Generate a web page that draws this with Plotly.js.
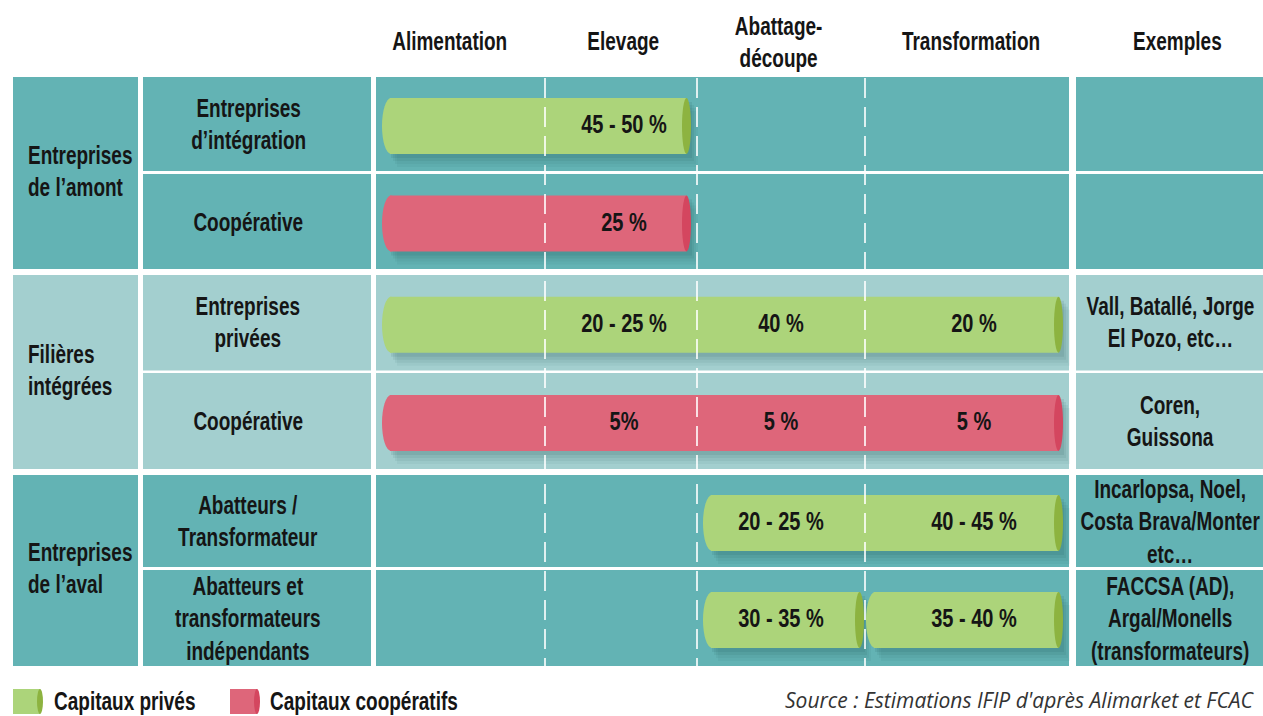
<!DOCTYPE html>
<html>
<head>
<meta charset="utf-8">
<script src="https://cdn.plot.ly/plotly-3.0.1.min.js"></script>
<style>
  html, body { margin: 0; padding: 0; background: #ffffff; }
  #chart { width: 1263px; height: 716px; }
</style>
</head>
<body>
<div id="chart"></div>
<script>
// ---------------- DATA ----------------
const groups = ["Entreprises<br>de l’amont", "Filières<br>intégrées", "Entreprises<br>de l’aval"];
const rowLabels = [
  "Entreprises<br>d’intégration",
  "Coopérative",
  "Entreprises<br>privées",
  "Coopérative",
  "Abatteurs /<br>Transformateur",
  "Abatteurs et<br>transformateurs<br>indépendants"
];
const rowGroup = [0, 0, 1, 1, 2, 2];
const stages = ["Alimentation", "Elevage", "Abattage-<br>découpe", "Transformation"];
const examplesHeader = "Exemples";
const examples = [
  "",
  "",
  "Vall, Batallé, Jorge<br>El Pozo, etc…",
  "Coren,<br>Guissona",
  "Incarlopsa, Noel,<br>Costa Brava/Monter<br>etc…",
  "FACCSA (AD),<br>Argal/Monells<br>(transformateurs)"
];
const kinds = ["Capitaux privés", "Capitaux coopératifs"];
// bars: row, first stage covered, stage after the last one covered, kind
const barRow  = [0, 1, 2, 3, 4, 5, 5];
const barFrom = [0, 0, 0, 0, 2, 2, 3];
const barTo   = [2, 2, 4, 4, 4, 3, 4];
const barKind = [0, 1, 0, 1, 0, 0, 0];
// shares written on the bars
const shareRow   = [0, 1, 2, 2, 2, 3, 3, 3, 4, 4, 5, 5];
const shareStage = [1, 1, 1, 2, 3, 1, 2, 3, 2, 3, 2, 3];
const shareText  = ["45 - 50 %", "25 %", "20 - 25 %", "40 %", "20 %", "5%", "5 %", "5 %",
                    "20 - 25 %", "40 - 45 %", "30 - 35 %", "35 - 40 %"];
const sourceText = "Source : Estimations IFIP d'après Alimarket et FCAC";

// ---------------- LAYOUT CONSTANTS (pixels) ----------------
const W = 1263, H = 716;
const colGroup = [13, 138], colSub = [143, 371], colBars = [376, 1069], colEx = [1076, 1263];
const stageEdges = [376, 545, 697, 865, 1069];
const stageHeadX = [449, 623, 778, 971];
const stageLabelX = [460, 624, 781, 974];
const rowTop = [77, 174, 275, 373, 475, 570];
const rowBot = [171, 269, 370.5, 469, 567, 666];
const groupTop = [77, 275, 475], groupBot = [269, 469, 666];
const groupFill = ["#63b3b4", "#a3cfcf", "#63b3b4"];
const kindFill = ["#acd47a", "#de667a"];
const kindCap = ["#8db340", "#d4465f"];
const barH = 56, barPad = 6, capW = 9;
const FONT = "'Liberation Sans', Arial, sans-serif";
const FS = 25;          // font size of the condensed labels
const SQUEEZE = 0.76;   // horizontal condensing of the labels
const txtColor = "#151515";

const shapes = [];
const annotations = [];
const bold = (size) => ({family: FONT, size: size, color: txtColor, weight: "bold"});

// cells
for (let g = 0; g < 3; g++) {
  shapes.push({type: "rect", xref: "x", yref: "y", x0: colGroup[0], x1: colGroup[1], y0: groupTop[g], y1: groupBot[g],
    fillcolor: groupFill[g], line: {width: 0}, layer: "below"});
  annotations.push({x: 26, y: (groupTop[g] + groupBot[g]) / 2 - 2, xref: "x", yref: "y", text: groups[g],
    showarrow: false, xanchor: "left", yanchor: "middle", align: "left", font: bold(FS)});
}
for (let r = 0; r < rowLabels.length; r++) {
  const fill = groupFill[rowGroup[r]];
  [colSub, colBars, colEx].forEach(c => shapes.push({type: "rect", xref: "x", yref: "y", x0: c[0], x1: c[1],
    y0: rowTop[r], y1: rowBot[r], fillcolor: fill, line: {width: 0}, layer: "below"}));
  const cy = (rowTop[r] + rowBot[r]) / 2;
  annotations.push({x: 248, y: cy, xref: "x", yref: "y", text: rowLabels[r], showarrow: false,
    xanchor: "center", yanchor: "middle", align: "center", font: bold(FS)});
  if (examples[r]) annotations.push({x: 1170, y: cy, xref: "x", yref: "y", text: examples[r], showarrow: false,
    xanchor: "center", yanchor: "middle", align: "center", font: bold(FS)});
}
// headers
stages.forEach((s, i) => annotations.push({x: stageHeadX[i], y: i === 2 ? 42 : 41, xref: "x", yref: "y", text: s,
  showarrow: false, xanchor: "center", yanchor: "middle", align: "center", font: bold(FS)}));
annotations.push({x: 1177, y: 41, xref: "x", yref: "y", text: examplesHeader, showarrow: false,
  xanchor: "center", yanchor: "middle", font: bold(FS)});

// bar geometry from data
function barCenterY(r) { return (rowTop[r] + rowBot[r]) / 2 + 2; }
const barX0 = [], barX1 = [], barY = [];
for (let i = 0; i < barRow.length; i++) {
  let joinedLeft = false, joinedRight = false;
  for (let j = 0; j < barRow.length; j++) {
    if (j === i || barRow[j] !== barRow[i]) continue;
    if (barTo[j] === barFrom[i]) joinedLeft = true;
    if (barFrom[j] === barTo[i]) joinedRight = true;
  }
  barX0.push(stageEdges[barFrom[i]] + (joinedLeft ? 1 : barPad));
  barX1.push(stageEdges[barTo[i]] - (joinedRight ? 1 : barPad));
  barY.push(barCenterY(barRow[i]));
}
// shadows + caps
for (let i = 0; i < barRow.length; i++) {
  const y0 = barY[i] - barH / 2, y1 = barY[i] + barH / 2;
  [[3, 4, 0.10], [5, 7, 0.08], [7, 10, 0.07], [9, 13, 0.05]].forEach(o => shapes.push({
    type: "rect", xref: "x", yref: "y", x0: barX0[i] + o[0] + 6, x1: barX1[i] + o[0] - 2,
    y0: y0 + o[1], y1: y1 + o[1], fillcolor: "#1d4e50", opacity: o[2], line: {width: 0}, layer: "below"}));
}
for (let i = 0; i < barRow.length; i++) {
  const y0 = barY[i] - barH / 2, y1 = barY[i] + barH / 2;
  shapes.push({type: "circle", xref: "x", yref: "y", x0: barX0[i], x1: barX0[i] + 18, y0: y0, y1: y1,
    fillcolor: kindFill[barKind[i]], line: {width: 0}, layer: "below"});
  shapes.push({type: "circle", xref: "x", yref: "y", x0: barX1[i] - capW, x1: barX1[i], y0: y0, y1: y1,
    fillcolor: kindCap[barKind[i]], line: {width: 0}, layer: "above"});
}
// dashed stage separators
for (let k = 1; k < stageEdges.length - 1; k++) {
  shapes.push({type: "line", xref: "x", yref: "y", x0: stageEdges[k], x1: stageEdges[k], y0: 78, y1: 666,
    line: {color: "#ffffff", width: 1.6, dash: "20px,9px"}, layer: "above"});
}
// legend
const legX = [13, 230], legTxtX = [52, 268];
kinds.forEach((k, i) => {
  shapes.push({type: "rect", xref: "x", yref: "y", x0: legX[i], x1: legX[i] + 27, y0: 689, y1: 714,
    fillcolor: kindFill[i], line: {width: 0}});
  shapes.push({type: "circle", xref: "x", yref: "y", x0: legX[i] + 24, x1: legX[i] + 30, y0: 689, y1: 714,
    fillcolor: kindCap[i], line: {width: 0}});
  annotations.push({x: legTxtX[i], y: 701, xref: "x", yref: "y", text: k, showarrow: false,
    xanchor: "left", yanchor: "middle", font: bold(FS)});
});
annotations.push({x: 1257, y: 700, xref: "x", yref: "y", text: sourceText, showarrow: false,
  xanchor: "right", yanchor: "middle",
  font: {family: "'Open Sans', 'Liberation Sans', sans-serif", size: 21, color: "#333333", style: "italic"}});

// traces
const traces = kinds.map((k, kind) => {
  const idx = barRow.map((_, i) => i).filter(i => barKind[i] === kind);
  return {
    type: "bar", orientation: "h", name: k, showlegend: false, hoverinfo: "skip",
    y: idx.map(i => barY[i]),
    base: idx.map(i => barX0[i] + 8),
    x: idx.map(i => barX1[i] - capW / 2 - barX0[i] - 8),
    width: idx.map(() => barH),
    marker: {color: kindFill[kind], line: {width: 0}}
  };
});
traces.push({
  type: "scatter", mode: "text", showlegend: false, hoverinfo: "skip",
  x: shareStage.map(s => stageLabelX[s]),
  y: shareRow.map(r => barCenterY(r) + 1),
  text: shareText,
  textposition: "middle center",
  textfont: bold(FS)
});

const layout = {
  width: W, height: H,
  margin: {l: 0, r: 0, t: 0, b: 0},
  paper_bgcolor: "#ffffff", plot_bgcolor: "#ffffff",
  barmode: "overlay",
  xaxis: {range: [0, W], visible: false, fixedrange: true},
  yaxis: {range: [H, 0], visible: false, fixedrange: true},
  shapes: shapes,
  annotations: annotations
};

// condense the bold labels horizontally around their anchor (imitates a condensed typeface)
function squeezeText(t, s, ax) {
  const prev = t.getAttribute("transform") || "";
  t.setAttribute("transform", (prev + " translate(" + ax + ",0) scale(" + s + ",1) translate(" + (-ax) + ",0)").trim());
}
function condense(gd) {
  gd.querySelectorAll("g.annotation").forEach(g => {
    const ann = gd.layout.annotations[+g.getAttribute("data-index")];
    const t = g.querySelector("text");
    if (!ann || !t || ann.text === sourceText) return;
    const bb = t.getBBox();
    const ax = ann.xanchor === "left" ? bb.x : ann.xanchor === "right" ? bb.x + bb.width : bb.x + bb.width / 2;
    squeezeText(t, SQUEEZE, ax);
  });
  gd.querySelectorAll("g.textpoint text").forEach(t => {
    const bb = t.getBBox();
    squeezeText(t, 0.8, bb.x + bb.width / 2);
  });
}
Plotly.newPlot("chart", traces, layout, {displayModeBar: false, staticPlot: true}).then(condense);
</script>
</body>
</html>
